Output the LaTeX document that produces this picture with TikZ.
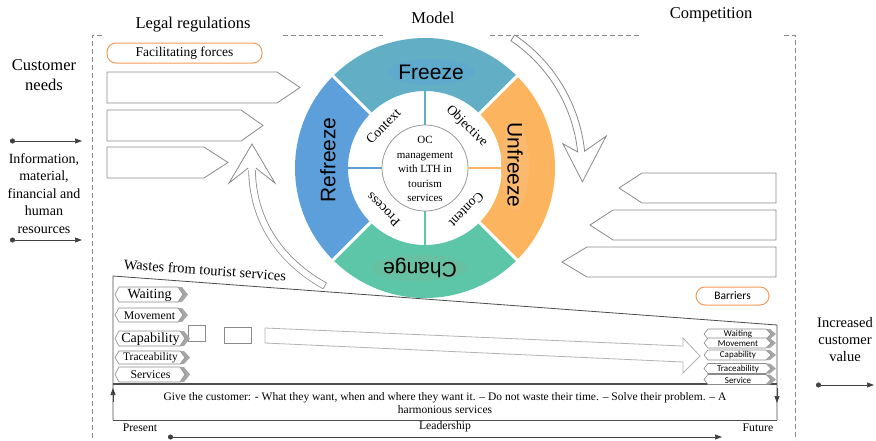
\documentclass[tikz,border=0pt]{standalone}
\usepackage{fontspec}
\setmainfont{Liberation Serif}
\newfontfamily\arialf{Liberation Sans}
\newfontfamily\calib{Carlito}
\usetikzlibrary{arrows.meta,calc}

\definecolor{frz}{HTML}{62AEC5}
\definecolor{frzhi}{HTML}{5EAACC}
\definecolor{unf}{HTML}{FDB45E}
\definecolor{unfhi}{HTML}{FBB96E}
\definecolor{chg}{HTML}{5DC5A8}
\definecolor{chghi}{HTML}{68C0A2}
\definecolor{rfz}{HTML}{5D9FDA}
\definecolor{orng}{HTML}{F39A5C}
\definecolor{outl}{HTML}{8A8A8A}

% one waste tag: name, x, y (centre line), body width, height, label
\newcommand\wastetag[6]{%
  \begin{scope}[shift={(#2,#3)}]
    \fill[gray!70] (#4-2,-#5/2) -- (#4+4,-#5/2) -- (#4+10,0) -- (#4+4,#5/2) -- (#4-2,#5/2) -- (#4+3,0) -- cycle;
    \draw[tagline] (0,0) -- (4,-#5/2) -- (#4,-#5/2) -- (#4+5,0) -- (#4,#5/2) -- (4,#5/2) -- cycle;
    \node[inner sep=0pt] (#1) at (#4/2+3,0.5) {#6};
  \end{scope}}

\begin{document}
\begin{tikzpicture}[x=1pt,y=-1pt,
  lbl/.style={inner sep=0pt, align=center},
  frame/.style={draw=outl, dash pattern=on 5pt off 3pt, line width=0.8pt},
  penta/.style={draw=outl, line width=0.8pt, fill=white},
  blockarrow/.style={draw=outl, line width=0.8pt, fill=white},
  tagline/.style={draw=outl, line width=0.6pt, fill=white},
  pill/.style={draw=orng, line width=1pt, rounded corners=9pt, inner sep=0pt},
  wline/.style={draw=black!70, line width=0.8pt},
  dotarrow/.style={draw=black!75, line width=0.7pt, {Circle[length=5pt]}-{Triangle[length=7pt,width=5pt]}},
  tiparrow/.style={draw=black!75, line width=0.7pt, -{Triangle[length=7pt,width=5pt]}}]

\useasboundingbox (0,0) rectangle (876,440);

% dashed frame
\draw[frame] (102,35) -- (92,35) -- (92,440);
\draw[frame] (283,35) -- (383,35);
\draw[frame] (490,35) -- (640,35);
\draw[frame] (784,35) -- (795,35) -- (795,440);

% headings
\node[lbl, font=\fontsize{16.5}{19}\selectfont] (legal) at (193,25) {Legal regulations};
\node[lbl, font=\fontsize{16.5}{19}\selectfont] (model) at (433,18) {Model};
\node[lbl, font=\fontsize{16.5}{19}\selectfont] (comp) at (711,15) {Competition};
\node[lbl, font=\fontsize{16.5}{20}\selectfont] (needs) at (44,75) {Customer\\needs};
\node[lbl, font=\fontsize{14}{17.6}\selectfont] (info) at (44,193.5) {Information,\\material,\\financial and\\human\\resources};
\node[lbl, font=\fontsize{14.5}{17}\selectfont] (incr) at (845,340) {Increased\\customer\\value};

% input / output arrows
\coordinate (in1s) at (10,141); \coordinate (in1e) at (82,141);
\coordinate (in2s) at (10,240); \coordinate (in2e) at (82,240);
\coordinate (outs) at (816,385); \coordinate (oute) at (874,385);
\draw[dotarrow] (in1s) -- (in1e);
\draw[dotarrow] (in2s) -- (in2e);
\draw[dotarrow] (outs) -- (oute);

% facilitating forces and barriers
\node[pill, minimum width=155pt, minimum height=20pt, font=\fontsize{13.5}{16}\selectfont] (fac) at (184.5,53) {Facilitating forces};
\node[pill, minimum width=73pt, minimum height=18pt, font=\calib\fontsize{11.5}{14}\selectfont] (bar) at (732.5,296) {Barriers};

% driving forces (left) and restraining forces (right)
\draw[penta] (107,72) -- (277,72) -- (300,87.5) -- (277,103) -- (107,103) -- cycle;
\draw[penta] (107,110) -- (241,110) -- (263,125.5) -- (241,141) -- (107,141) -- cycle;
\draw[penta] (107,147) -- (204,147) -- (228,162.5) -- (204,178) -- (107,178) -- cycle;
\draw[penta] (776,173) -- (642,173) -- (619,188) -- (642,203) -- (776,203) -- cycle;
\draw[penta] (776,210) -- (613,210) -- (590,225) -- (613,240) -- (776,240) -- cycle;
\draw[penta] (776,247) -- (587,247) -- (562,262) -- (587,277) -- (776,277) -- cycle;

% wastes panel
\draw[wline] (113,420) -- (113,276) -- (777,325) -- (777,420);
\draw[wline, line width=1.3pt] (113,384) -- (777,384);
\draw[wline] (113,420) -- (777,420);
\coordinate (upA) at (113,402); \coordinate (upB) at (113,388);
\coordinate (dnA) at (777,388); \coordinate (dnB) at (777,403);
\draw[tiparrow] (upA) -- (upB);
\draw[tiparrow] (dnA) -- (dnB);
\node[lbl, rotate=-4.2, font=\fontsize{14.4}{17}\selectfont] (wastes) at (205,270) {Wastes from tourist services};

% flow of the wastes towards the future
\draw[draw=outl, line width=0.6pt] (188,325) rectangle (205,341);
\draw[draw=outl, line width=0.6pt] (224,327) rectangle (251,343);
\draw[draw=gray!60, line width=0.8pt, fill=white] (265,328) -- (683,346) -- (683,338) -- (700,356) -- (683,373) -- (683,362) -- (265,343) -- cycle;

% wastes now
\wastetag{wA}{115}{294.5}{63}{15}{\fontsize{14}{16}\selectfont Waiting}
\wastetag{wB}{115}{315}{63}{14}{\fontsize{11.8}{14}\selectfont Movement}
\wastetag{wC}{115}{338.5}{65}{15}{\fontsize{14}{16}\selectfont Capability}
\wastetag{wD}{115}{357.5}{65}{13}{\fontsize{11.4}{13}\selectfont Traceability}
\wastetag{wE}{115}{374.5}{65}{15}{\fontsize{11.8}{14}\selectfont Services}

% wastes later
\wastetag{fA}{704}{334}{62}{10}{\calib\fontsize{9}{10}\selectfont Waiting}
\wastetag{fB}{704}{343}{62}{10}{\calib\fontsize{9}{10}\selectfont Movement}
\wastetag{fC}{704}{355}{62}{10}{\calib\fontsize{9}{10}\selectfont Capability}
\wastetag{fD}{704}{368.5}{62}{10}{\calib\fontsize{9}{10}\selectfont Traceability}
\wastetag{fE}{704}{379.5}{62}{10}{\calib\fontsize{9}{10}\selectfont Service}

% customer statement
\node[lbl, font=\fontsize{11.5}{13}\selectfont] (give) at (445,403.5) {Give the customer: - What they want, when and where they want it. -- Do not waste their time. -- Solve their problem. -- A\\harmonious services};

% time line
\node[lbl, font=\fontsize{11.7}{14}\selectfont] (present) at (140,428) {Present};
\node[lbl, font=\fontsize{11.7}{14}\selectfont] (lead) at (445,427) {Leadership};
\node[lbl, font=\fontsize{11.7}{14}\selectfont] (future) at (758,428) {Future};
\coordinate (tls) at (168,437); \coordinate (tle) at (722,437);
\draw[dotarrow] (tls) -- (tle);

% the change model ring
\begin{scope}[shift={(425,168)}]
  \fill[frz] (225:130) arc[start angle=225,end angle=315,radius=130] -- (315:77) arc[start angle=315,end angle=225,radius=77] -- cycle;
  \fill[unf] (315:130) arc[start angle=315,end angle=405,radius=130] -- (45:77) arc[start angle=45,end angle=-45,radius=77] -- cycle;
  \fill[chg] (45:130) arc[start angle=45,end angle=135,radius=130] -- (135:77) arc[start angle=135,end angle=45,radius=77] -- cycle;
  \fill[rfz] (135:130) arc[start angle=135,end angle=225,radius=130] -- (225:77) arc[start angle=225,end angle=135,radius=77] -- cycle;
  \fill[frzhi] (6,-96) ellipse[x radius=44, y radius=13];
  \fill[chghi] (-5,100) ellipse[x radius=48, y radius=13];
  \fill[unfhi] (90,-3) ellipse[x radius=14, y radius=45];
  \foreach \a in {45,135,225,315} \draw[white, line width=3pt] (\a:76) -- (\a:132);
  \draw[frz, line width=1.2pt] (0,-77) -- (0,-43);
  \draw[chg, line width=1.2pt] (0,43) -- (0,77);
  \draw[rfz, line width=1.2pt] (-77,0) -- (-43,0);
  \draw[unf, line width=1.2pt] (43,0) -- (77,0);
  \draw[gray!80, line width=0.8pt, fill=white] (0,0) circle (43);
  \node[lbl, font=\fontsize{11}{14.5}\selectfont] (oc) at (0,1) {OC\\management\\with LTH in\\tourism\\services};
  \node[lbl, rotate=45, font=\fontsize{13.5}{16}\selectfont] (ctx) at (225:59) {Context};
  \node[lbl, rotate=-45, font=\fontsize{13.5}{16}\selectfont] (obj) at (315:59) {Objective};
  \node[lbl, rotate=225, font=\fontsize{13.5}{16}\selectfont] (cnt) at (45:59) {Content};
  \node[lbl, rotate=135, font=\fontsize{13.5}{16}\selectfont] (prc) at (135:59) {Process};
  \node[lbl, font=\arialf\fontsize{21}{24}\selectfont] (freeze) at (6,-96) {Freeze};
  \node[lbl, rotate=-90, font=\arialf\fontsize{21}{24}\selectfont] (unfreeze) at (90,-3) {Unfreeze};
  \node[lbl, rotate=90, font=\arialf\fontsize{21}{24}\selectfont] (refreeze) at (-97,-8) {Refreeze};
  \node[lbl, rotate=180, font=\arialf\fontsize{21}{24}\selectfont] (change) at (-5,100) {Change};
  % clockwise block arrow on the right
  \draw[blockarrow] (-56:160.5) arc[start angle=-56,end angle=-6,radius=160.5] -- (-10:184) -- (5:158) -- (-10:140) -- (-6:153.5) arc[start angle=-6,end angle=-56,radius=153.5] -- cycle;
\end{scope}

% block arrow rising on the left
\draw[outl, line width=7.5pt] (325,286) .. controls (282,262) and (252,222) .. (252,168);
\draw[white, line width=5.9pt, shorten <=0.8pt] (325,286) .. controls (282,262) and (252,222) .. (252,168);
\fill[white] (248.2,170) -- (229,183) -- (252,144) -- (275,183) -- (255.8,170) -- cycle;
\draw[outl, line width=0.8pt] (248.2,168) -- (229,183) -- (252,144) -- (275,183) -- (255.8,168);

\end{tikzpicture}
\end{document}
